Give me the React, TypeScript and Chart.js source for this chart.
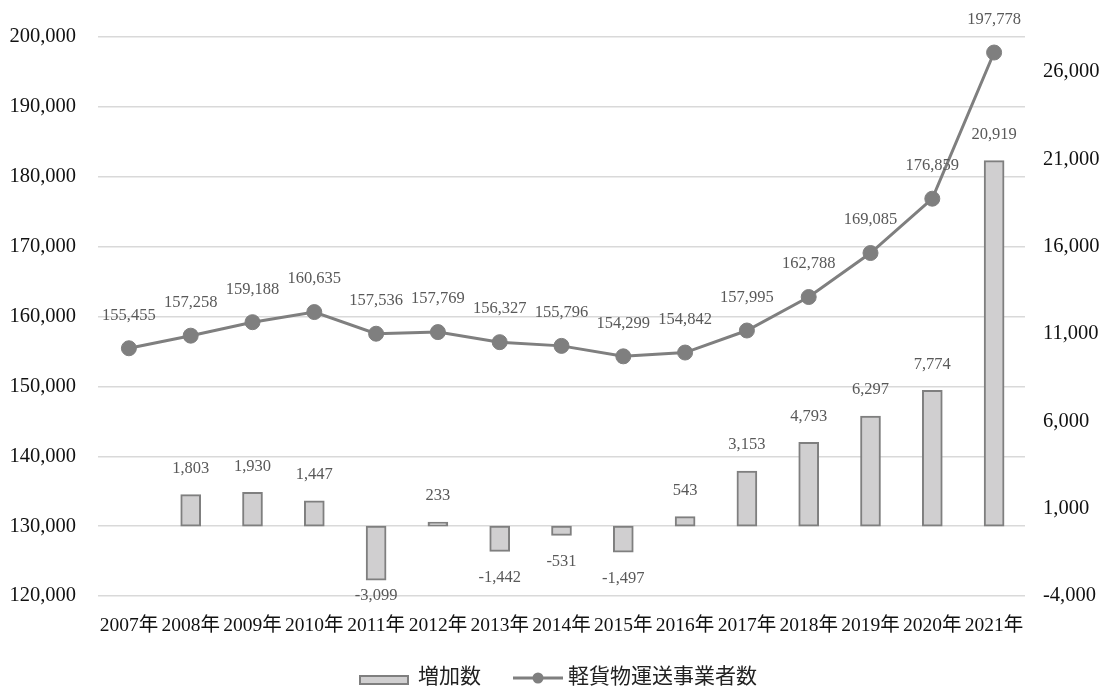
import React, { useEffect, useRef } from "react";
import { Chart, registerables } from "chart.js";

Chart.register(...registerables);

const categories = [
  "2007年", "2008年", "2009年", "2010年", "2011年", "2012年", "2013年", "2014年",
  "2015年", "2016年", "2017年", "2018年", "2019年", "2020年", "2021年",
];
const operators = [
  155455, 157258, 159188, 160635, 157536, 157769, 156327, 155796,
  154299, 154842, 157995, 162788, 169085, 176859, 197778,
];
const increases: (number | null)[] = [
  null, 1803, 1930, 1447, -3099, 233, -1442, -531,
  -1497, 543, 3153, 4793, 6297, 7774, 20919,
];
const rightTicks = [-4000, 1000, 6000, 11000, 16000, 21000, 26000];
const legendLabels = ["増加数", "軽貨物運送事業者数"];

const SERIF = '"Liberation Serif", "Noto Sans CJK JP", serif';
const BAR_FILL = "#d0cfd0";
const GRAY = "#7f7f7f";

const fmt = (v: number) => v.toLocaleString("en-US");

const labelPlugin = {
  id: "valueLabels",
  afterDatasetsDraw(chart: any) {
    const ctx = chart.ctx;
    const area = chart.chartArea;
    ctx.save();
    ctx.font = `16.5px ${SERIF}`;
    ctx.fillStyle = "#595959";
    ctx.textAlign = "center";
    ctx.textBaseline = "middle";
    chart.data.datasets.forEach((ds: any, di: number) => {
      const meta = chart.getDatasetMeta(di);
      meta.data.forEach((el: any, i: number) => {
        const v = ds.data[i];
        if (v == null) return;
        const text = fmt(v);
        if (ds.type === "bar") {
          if (v >= 0) ctx.fillText(text, el.x, el.y - 26);
          else ctx.fillText(text, el.x, Math.min(el.y + 26, area.bottom));
        } else {
          ctx.fillText(text, el.x, el.y - 33);
        }
      });
    });
    ctx.restore();
  },
};

const legendPlugin = {
  id: "customLegend",
  afterDraw(chart: any) {
    const ctx = chart.ctx;
    ctx.save();
    ctx.font = `21px ${SERIF}`;
    const y = 677;
    const w1 = ctx.measureText(legendLabels[0]).width;
    const w2 = ctx.measureText(legendLabels[1]).width;
    const boxW = 50, gap1 = 9, between = 32, lineW = 50, gap2 = 5;
    const total = boxW + gap1 + w1 + between + lineW + gap2 + w2;
    let x = 558 - total / 2;
    ctx.fillStyle = BAR_FILL;
    ctx.fillRect(x, y - 2, boxW, 10);
    ctx.strokeStyle = GRAY;
    ctx.lineWidth = 2;
    ctx.strokeRect(x + 1, y - 1, boxW - 2, 8);
    x += boxW + gap1;
    ctx.fillStyle = "#222";
    ctx.textAlign = "left";
    ctx.textBaseline = "middle";
    ctx.fillText(legendLabels[0], x, y);
    x += w1 + between;
    ctx.strokeStyle = GRAY;
    ctx.lineWidth = 3;
    ctx.beginPath();
    ctx.moveTo(x, y + 1);
    ctx.lineTo(x + lineW, y + 1);
    ctx.stroke();
    ctx.fillStyle = GRAY;
    ctx.beginPath();
    ctx.arc(x + lineW / 2, y + 1, 5.5, 0, Math.PI * 2);
    ctx.fill();
    x += lineW + gap2;
    ctx.fillStyle = "#222";
    ctx.fillText(legendLabels[1], x, y);
    ctx.restore();
  },
};

export default function App() {
  const ref = useRef<HTMLCanvasElement | null>(null);

  useEffect(() => {
    document.body.style.margin = "0";
    const canvas = ref.current;
    if (!canvas) return;
    const chart = new Chart(canvas, {
      data: {
        labels: categories,
        datasets: [
          {
            type: "line",
            label: legendLabels[1],
            data: operators,
            yAxisID: "y",
            borderColor: GRAY,
            borderWidth: 3,
            pointRadius: 7.5,
            pointBackgroundColor: GRAY,
            pointBorderColor: GRAY,
            pointBorderWidth: 1,
            order: 0,
          } as any,
          {
            type: "bar",
            label: legendLabels[0],
            data: increases,
            yAxisID: "y1",
            backgroundColor: BAR_FILL,
            borderColor: GRAY,
            borderWidth: 2,
            borderSkipped: false,
            barThickness: 20,
            order: 1,
          } as any,
        ],
      },
      options: {
        responsive: false,
        animation: false,
        layout: { padding: { top: 37, bottom: 52, left: 0, right: 0 } },
        plugins: { legend: { display: false }, tooltip: { enabled: false } },
        scales: {
          x: {
            grid: { display: false, drawTicks: false },
            border: { display: false },
            ticks: {
              font: { family: SERIF, size: 19.5 },
              color: "#111",
              maxRotation: 0,
              autoSkip: false,
              padding: 18,
            },
            afterFit: (s: any) => {
              s.height = 40;
            },
          },
          y: {
            position: "left",
            min: 120000,
            max: 200000,
            grid: { color: "#d9d9d9", lineWidth: 1.5, drawTicks: false },
            border: { display: false },
            ticks: {
              stepSize: 10000,
              font: { family: SERIF, size: 20.5 },
              color: "#111",
              padding: 22,
              callback: (v: any) => fmt(Number(v)),
            },
            afterFit: (s: any) => {
              s.width = 98;
            },
          },
          y1: {
            position: "right",
            min: -4000,
            max: 28000,
            grid: { display: false, drawTicks: false },
            border: { display: false },
            ticks: {
              font: { family: SERIF, size: 20.5 },
              color: "#111",
              padding: 18,
              callback: (v: any) => fmt(Number(v)),
            },
            afterBuildTicks: (s: any) => {
              s.ticks = rightTicks.map((v) => ({ value: v }));
            },
            afterFit: (s: any) => {
              s.width = 77;
            },
          },
        },
      } as any,
      plugins: [labelPlugin, legendPlugin],
    });
    return () => chart.destroy();
  }, []);

  return (
    <div style={{ width: 1102, height: 688, background: "#fff" }}>
      <canvas ref={ref} width={1102} height={688} style={{ display: "block" }} />
    </div>
  );
}
